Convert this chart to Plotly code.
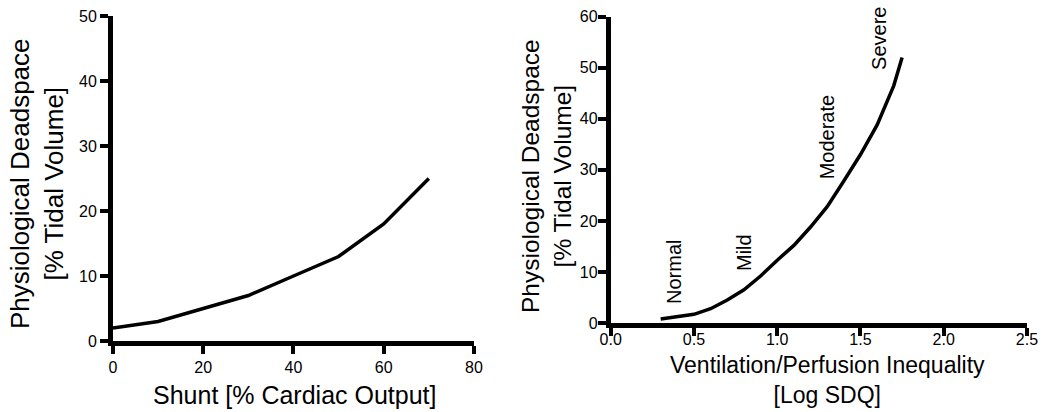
import plotly.graph_objects as go

# Left panel: shunt vs deadspace
shunt_x = [0, 10, 20, 30, 40, 50, 60, 70]
shunt_y = [2, 3, 5, 7, 10, 13, 18, 25]

# Right panel: V/Q inequality vs deadspace
vq_x = [0.3, 0.4, 0.5, 0.6, 0.7, 0.8, 0.9, 1.0, 1.1, 1.2, 1.3, 1.4, 1.5, 1.6, 1.7, 1.75]
vq_y = [0.8, 1.2, 1.7, 2.8, 4.5, 6.5, 9.2, 12.3, 15.2, 18.8, 22.8, 27.8, 33.0, 38.8, 46.5, 52.0]

severity_labels = ["Normal", "Mild", "Moderate", "Severe"]
severity_x = [0.38, 0.80, 1.30, 1.61]
severity_y = [10.0, 13.9, 36.4, 55.8]

left_xticks = [0, 20, 40, 60, 80]
left_yticks = [0, 10, 20, 30, 40, 50]
right_xticks = [0.0, 0.5, 1.0, 1.5, 2.0, 2.5]
right_yticks = [0, 10, 20, 30, 40, 50, 60]

FONT = "Liberation Sans, Arial, sans-serif"

fig = go.Figure()
fig.add_trace(go.Scatter(x=shunt_x, y=shunt_y, mode="lines",
                         line=dict(color="black", width=3.5), xaxis="x", yaxis="y",
                         showlegend=False, cliponaxis=False))
fig.add_trace(go.Scatter(x=vq_x, y=vq_y, mode="lines",
                         line=dict(color="black", width=3.5), xaxis="x2", yaxis="y2",
                         showlegend=False, cliponaxis=False))

fig.update_layout(
    template="none",
    width=1057, height=412, margin=dict(l=0, r=0, t=0, b=0, pad=0, autoexpand=False),
    autosize=False,
    paper_bgcolor="white", plot_bgcolor="white",
    font=dict(family=FONT, color="black"),
)

def ax(**kw):
    d = dict(showline=True, linecolor="black", linewidth=5, ticks="outside",
             ticklen=8, tickwidth=4, tickcolor="black", showgrid=False,
             zeroline=False, automargin=False,
             tickfont=dict(family=FONT, size=16, color="black"))
    d.update(kw)
    return d

fig.layout.xaxis = ax(domain=[0.1069, 0.4484], range=[0, 80], tickvals=left_xticks, anchor="y")
fig.layout.yaxis = ax(domain=[0.1723, 0.9612], range=[0, 50], tickvals=left_yticks, anchor="x")
fig.layout.xaxis2 = ax(domain=[0.5778, 0.9716], range=[0, 2.5], tickvals=right_xticks,
                       ticktext=[f"{v:.1f}" for v in right_xticks], anchor="y2",
                       ticklabelstandoff=-10)
fig.layout.yaxis2 = ax(domain=[0.2160, 0.9595], range=[0, 60], tickvals=right_yticks,
                       anchor="x2", ticklabelstandoff=-3)

annotations = [
    dict(text="Physiological Deadspace<br>[% Tidal Volume]", xref="paper", yref="paper",
         x=37 / 1057, y=(412 - 184) / 412, xanchor="center", yanchor="middle",
         textangle=-90, showarrow=False, font=dict(size=26, family=FONT)),
    dict(text="Shunt [% Cardiac Output]", xref="paper", yref="paper",
         x=294 / 1057, y=(412 - 395) / 412, xanchor="center", yanchor="middle",
         showarrow=False, font=dict(size=25, family=FONT)),
    dict(text="Physiological Deadspace<br>[% Tidal Volume]", xref="paper", yref="paper",
         x=546 / 1057, y=(412 - 176) / 412, xanchor="center", yanchor="middle",
         textangle=-90, showarrow=False, font=dict(size=24.5, family=FONT)),
    dict(text="Ventilation/Perfusion Inequality<br>[Log SDQ]", xref="paper", yref="paper",
         x=827.5 / 1057, y=(412 - 380) / 412, xanchor="center", yanchor="middle",
         showarrow=False, font=dict(size=23, family=FONT)),
]
for lab, lx, ly in zip(severity_labels, severity_x, severity_y):
    annotations.append(dict(text=lab, xref="x2", yref="y2", x=lx, y=ly,
                            xanchor="center", yanchor="middle", textangle=-90,
                            showarrow=False, font=dict(size=20, family=FONT)))
fig.update_layout(annotations=annotations)

fig.write_html("out.html")
